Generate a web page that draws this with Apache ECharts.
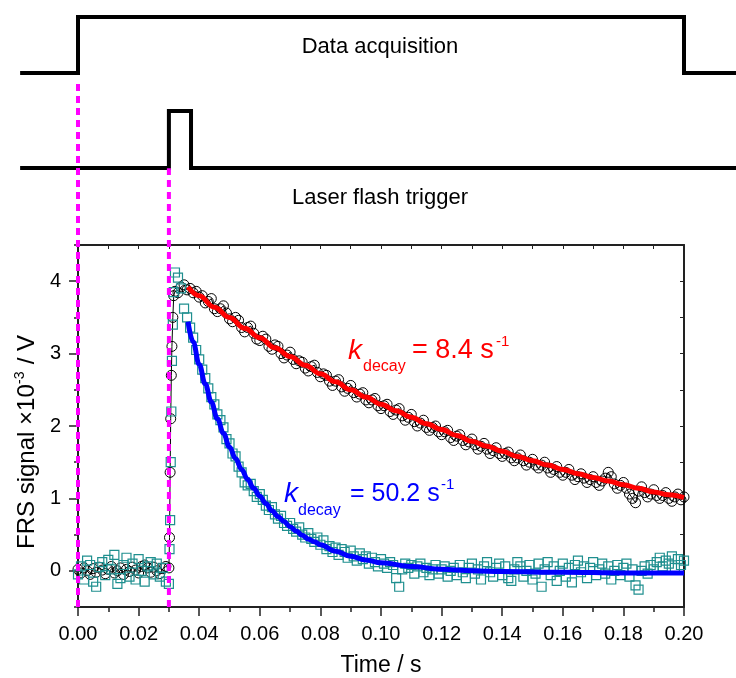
<!DOCTYPE html>
<html>
<head>
<meta charset="utf-8">
<script src="https://cdn.jsdelivr.net/npm/echarts@6.0.0/dist/echarts.min.js"></script>
<style>
html, body { margin: 0; padding: 0; background: #fff; }
#chart { width: 736px; height: 678px; }
</style>
</head>
<body>
<div id="chart"></div>
<script>
// FRS signal, one sample per ms (0 ... 0.200 s)
const sampleStep = 0.001;
const slowSignal = [
  0.02, -0.03, 0.04, 0.00, -0.05, 0.03, -0.02, 0.05, 0.01, -0.04,
  0.02, 0.06, -0.03, 0.00, 0.04, -0.05, 0.02, -0.01, 0.05, 0.01,
  -0.03, 0.06, 0.08, 0.04, -0.02, 0.05, 0.00, -0.04, 0.03, 0.06,
  0.04, 3.10, 3.86, 3.84, 3.92, 3.95, 3.88, 3.90, 3.84, 3.86,
  3.78, 3.80, 3.70, 3.72, 3.76, 3.62, 3.58, 3.62, 3.66, 3.56,
  3.48, 3.44, 3.50, 3.46, 3.36, 3.30, 3.36, 3.38, 3.28, 3.20,
  3.18, 3.24, 3.20, 3.10, 3.06, 3.12, 3.10, 3.00, 2.94, 2.98,
  3.02, 2.92, 2.86, 2.90, 2.88, 2.80, 2.76, 2.82, 2.84, 2.74,
  2.68, 2.72, 2.70, 2.62, 2.56, 2.62, 2.64, 2.54, 2.48, 2.52,
  2.56, 2.46, 2.40, 2.44, 2.46, 2.36, 2.32, 2.36, 2.38, 2.28,
  2.24, 2.28, 2.30, 2.20, 2.16, 2.22, 2.24, 2.14, 2.08, 2.12,
  2.16, 2.06, 2.00, 2.04, 2.08, 1.98, 1.94, 1.98, 2.00, 1.92,
  1.88, 1.92, 1.94, 1.84, 1.80, 1.86, 1.88, 1.80, 1.74, 1.78,
  1.82, 1.74, 1.68, 1.72, 1.76, 1.68, 1.62, 1.66, 1.70, 1.62,
  1.58, 1.62, 1.64, 1.56, 1.52, 1.56, 1.60, 1.52, 1.46, 1.50,
  1.54, 1.46, 1.42, 1.46, 1.50, 1.42, 1.36, 1.40, 1.44, 1.36,
  1.32, 1.36, 1.40, 1.32, 1.26, 1.30, 1.34, 1.28, 1.22, 1.26,
  1.30, 1.22, 1.18, 1.24, 1.28, 1.36, 1.30, 1.20, 1.14, 1.18,
  1.22, 1.14, 1.06, 1.00, 0.94, 1.10, 1.16, 1.08, 1.02, 1.06,
  1.12, 1.04, 1.00, 1.04, 1.08, 1.00, 0.96, 1.02, 1.06, 0.98,
  1.02
];
const fastSignal = [
  -0.05, 0.06, -0.12, 0.14, 0.08, -0.15, -0.22, 0.05, 0.12, -0.06,
  0.15, 0.02, 0.22, -0.18, -0.10, 0.08, 0.18, -0.08, 0.10, -0.12,
  0.16, 0.00, -0.15, 0.06, 0.12, -0.05, 0.10, -0.08, 0.04, -0.15,
  -0.18, 2.90, 4.12, 4.05, 3.90, 3.62, 3.50, 3.36, 3.22, 3.05,
  2.92, 2.78, 2.66, 2.52, 2.40, 2.30, 2.16, 2.08, 1.98, 1.82,
  1.76, 1.62, 1.58, 1.44, 1.36, 1.22, 1.18, 1.20, 1.10, 1.02,
  1.06, 0.98, 0.90, 0.84, 0.88, 0.78, 0.72, 0.76, 0.66, 0.62,
  0.66, 0.58, 0.54, 0.60, 0.50, 0.46, 0.52, 0.44, 0.40, 0.46,
  0.36, 0.42, 0.30, 0.34, 0.26, 0.32, 0.22, 0.30, 0.26, 0.18,
  0.28, 0.20, 0.14, 0.24, 0.16, 0.20, 0.10, 0.18, 0.12, 0.06,
  0.16, 0.10, 0.04, 0.12, 0.08, -0.10, -0.22, 0.02, 0.10, 0.04,
  0.08, -0.04, 0.06, 0.10, -0.02, 0.04, -0.06, 0.02, 0.08, -0.04,
  0.02, 0.06, -0.08, 0.00, 0.04, -0.06, 0.08, -0.02, -0.10, 0.04,
  0.10, -0.04, 0.02, -0.12, 0.06, 0.12, -0.02, -0.08, 0.04, 0.10,
  -0.06, 0.06, -0.10, -0.14, 0.02, 0.12, 0.06, -0.08, 0.00, 0.08,
  -0.12, -0.04, 0.10, -0.22, 0.02, 0.12, -0.06, 0.06, -0.14, 0.00,
  0.10, -0.08, 0.04, -0.16, 0.08, 0.14, -0.02, 0.06, -0.10, 0.04,
  0.12, -0.06, 0.02, 0.10, -0.04, 0.06, -0.12, 0.00, 0.08, -0.06,
  0.04, 0.10, -0.08, 0.02, -0.20, -0.26, 0.00, 0.06, -0.04, 0.08,
  0.02, 0.12, 0.18, 0.06, 0.14, 0.10, 0.20, 0.04, 0.16, 0.08,
  0.14
];
// extra samples on the rising edge after the flash
const riseTime = [0.0302, 0.0304, 0.0306, 0.0308, 0.0313, 0.0316];
const slowRise = [0.46, 1.36, 2.10, 2.70, 3.50, 3.80];
const fastRise = [0.30, 0.70, 1.50, 2.20, 3.40, 3.85];

// exponential fits
const redFitTime = [0.0363, 0.040, 0.045, 0.050, 0.055, 0.060, 0.065, 0.070, 0.075, 0.080,
  0.085, 0.090, 0.095, 0.100, 0.105, 0.110, 0.115, 0.120, 0.125, 0.130, 0.135, 0.140,
  0.145, 0.150, 0.155, 0.160, 0.165, 0.170, 0.175, 0.180, 0.185, 0.190, 0.195, 0.200];
const redFitValues = [3.92, 3.80, 3.64, 3.50, 3.35, 3.22, 3.08, 2.96, 2.84, 2.72,
  2.61, 2.50, 2.40, 2.30, 2.21, 2.12, 2.03, 1.95, 1.87, 1.79, 1.72, 1.65,
  1.58, 1.52, 1.46, 1.40, 1.34, 1.29, 1.24, 1.19, 1.14, 1.09, 1.05, 1.01];
const blueFitTime = [0.0363, 0.038, 0.040, 0.042, 0.044, 0.046, 0.048, 0.050, 0.052, 0.054,
  0.056, 0.058, 0.060, 0.062, 0.064, 0.066, 0.068, 0.070, 0.072, 0.074, 0.076, 0.078,
  0.080, 0.085, 0.090, 0.095, 0.100, 0.110, 0.120, 0.130, 0.140, 0.160, 0.180, 0.200];
const blueFitValues = [3.44, 3.16, 2.85, 2.58, 2.33, 2.10, 1.90, 1.71, 1.55, 1.40,
  1.26, 1.14, 1.03, 0.93, 0.83, 0.75, 0.68, 0.61, 0.55, 0.49, 0.44, 0.40,
  0.36, 0.27, 0.20, 0.15, 0.11, 0.06, 0.02, 0.00, -0.01, -0.02, -0.03, -0.03];

// timing diagram (level 0 = low, 1 = high)
const acqTime = [-0.0191, 0, 0, 0.200, 0.200, 0.2172];
const acqLevel = [0, 0, 1, 1, 0, 0];
const laserTime = [-0.0191, 0.030, 0.030, 0.0373, 0.0373, 0.2172];
const laserLevel = [0, 0, 1, 1, 0, 0];

// dotted markers: t = 0 (acquisition start) and t = 0.03 (flash)
const markerTime = [0, 0.03];
const markerTop = [6.76, 5.56];

const FONT = 'Arial, "Liberation Sans", sans-serif';
const AXIS = '#222';

// plot box: 78 px .. 684 px for 0 .. 0.2 s; timing grids span the full width
const PLOT_LEFT = 78, PLOT_RIGHT = 52, WIDTH = 736;
const secPerPx = 0.2 / (WIDTH - PLOT_LEFT - PLOT_RIGHT);
const fullMin = -PLOT_LEFT * secPerPx;
const fullMax = 0.2 + PLOT_RIGHT * secPerPx;

function zip(xs, ys) {
  return xs.map(function (x, i) { return [x, ys[i]]; });
}
function sampled(values, riseValues) {
  let pts = values.map(function (v, i) { return [+(i * sampleStep).toFixed(4), v]; });
  pts = pts.concat(zip(riseTime, riseValues));
  return pts.sort(function (a, b) { return a[0] - b[0]; });
}
function label(text, x, y, size, color, italic, rotate) {
  return {
    type: 'text', x: x, y: y, z: 10, rotation: rotate ? Math.PI / 2 : 0,
    style: {
      text: text, fill: color, fontSize: size, fontFamily: FONT,
      fontStyle: italic ? 'italic' : 'normal',
      align: 'left', verticalAlign: 'middle'
    }
  };
}

let myChart = echarts.init(document.getElementById('chart'));

let markerSeries = markerTime.map(function (t, i) {
  return {
    type: 'line', xAxisIndex: 0, yAxisIndex: 0, clip: false, z: 6,
    symbol: 'none', silent: true,
    lineStyle: { color: '#ff00ff', width: 4, type: [7, 5] },
    data: [[t, -0.5], [t, markerTop[i]]]
  };
});

let option = {
  animation: false,
  backgroundColor: '#fff',
  grid: [
    { left: PLOT_LEFT, right: PLOT_RIGHT, top: 245, bottom: 71, outerBoundsMode: 'none' },
    { left: 0, right: 0, top: 17, height: 56, outerBoundsMode: 'none' },
    { left: 0, right: 0, top: 111, height: 57, outerBoundsMode: 'none' }
  ],
  xAxis: [
    {
      gridIndex: 0, type: 'value', position: 'bottom',
      min: 0, max: 0.2, interval: 0.02,
      axisLine: { onZero: false, lineStyle: { color: AXIS, width: 2 } },
      axisTick: { length: 9, lineStyle: { color: AXIS, width: 1.5 } },
      minorTick: { show: true, splitNumber: 2, length: 5, lineStyle: { color: AXIS, width: 1.5 } },
      axisLabel: {
        margin: 17, fontSize: 20, color: '#000', fontFamily: FONT,
        formatter: function (v) { return v.toFixed(2); }
      },
      splitLine: { show: false },
      name: 'Time / s', nameLocation: 'middle', nameGap: 47,
      nameTextStyle: { fontSize: 23, color: '#000', fontFamily: FONT }
    },
    {
      gridIndex: 0, type: 'value', position: 'top',
      min: 0, max: 0.2, interval: 0.01,
      axisLine: { onZero: false, lineStyle: { color: AXIS, width: 2 } },
      axisTick: { inside: true, length: 4, lineStyle: { color: AXIS, width: 1 } },
      axisLabel: { show: false },
      splitLine: { show: false }
    },
    { gridIndex: 1, type: 'value', min: fullMin, max: fullMax, show: false },
    { gridIndex: 2, type: 'value', min: fullMin, max: fullMax, show: false }
  ],
  yAxis: [
    {
      gridIndex: 0, type: 'value', position: 'left',
      min: -0.5, max: 4.5, interval: 0.5,
      axisLine: { show: true, onZero: false, lineStyle: { color: AXIS, width: 2 } },
      axisTick: { length: 4, lineStyle: { color: AXIS, width: 1.5 } },
      axisLabel: {
        margin: 17, fontSize: 20, color: '#000', fontFamily: FONT,
        formatter: function (v) { return Number.isInteger(v) ? String(v) : ''; }
      },
      splitLine: { show: false }
    },
    {
      gridIndex: 0, type: 'value', position: 'left',
      min: -0.5, max: 4.5, interval: 0.5,
      axisLine: { show: false, onZero: false },
      axisTick: { show: true, length: 9, customValues: [0, 1, 2, 3, 4], lineStyle: { color: AXIS, width: 1.5 } },
      axisLabel: { show: false },
      splitLine: { show: false }
    },
    {
      gridIndex: 0, type: 'value', position: 'right',
      min: -0.5, max: 4.5, interval: 0.5,
      axisLine: { show: true, onZero: false, lineStyle: { color: AXIS, width: 2 } },
      axisTick: { show: true, inside: true, length: 4, lineStyle: { color: AXIS, width: 1 } },
      axisLabel: { show: false },
      splitLine: { show: false }
    },
    { gridIndex: 1, type: 'value', min: 0, max: 1, show: false },
    { gridIndex: 2, type: 'value', min: 0, max: 1, show: false }
  ],
  graphic: [
    // y axis title, read bottom to top
    label('FRS signal ×10', 27, 549, 24, '#000', false, true),
    label('-3', 20, 384, 14, '#000', false, true),
    label(' / V', 27, 371, 24, '#000', false, true),
    {
      type: 'text', x: 380, y: 47, z: 10,
      style: { text: 'Data acquisition', fill: '#000', fontSize: 22, fontFamily: FONT, align: 'center', verticalAlign: 'middle' }
    },
    {
      type: 'text', x: 380, y: 198, z: 10,
      style: { text: 'Laser flash trigger', fill: '#000', fontSize: 22, fontFamily: FONT, align: 'center', verticalAlign: 'middle' }
    },
    label('k', 348, 351, 28, '#ff0000', true),
    label('decay', 363, 367, 16, '#ff0000', false),
    label('= 8.4 s', 412, 351, 27, '#ff0000', false),
    label('-1', 496, 342, 15, '#ff0000', false),
    label('k', 284, 494, 28, '#0000ff', true),
    label('decay', 298, 511, 16, '#0000ff', false),
    label('= 50.2 s', 350, 494, 25, '#0000ff', false),
    label('-1', 441, 485, 15, '#0000ff', false)
  ],
  series: [
    {
      name: 'slow', type: 'line', xAxisIndex: 0, yAxisIndex: 0, z: 2,
      data: sampled(slowSignal, slowRise),
      symbol: 'circle', symbolSize: 10, showAllSymbol: true,
      lineStyle: { color: '#000', width: 1 },
      itemStyle: { color: 'rgba(0,0,0,0)', borderColor: '#000', borderWidth: 1 }
    },
    {
      name: 'fast', type: 'scatter', xAxisIndex: 0, yAxisIndex: 0, z: 3,
      data: sampled(fastSignal, fastRise),
      symbol: 'rect', symbolSize: 9,
      itemStyle: { color: 'rgba(0,0,0,0)', borderColor: '#1f8f8f', borderWidth: 1.2, opacity: 1 }
    },
    {
      name: 'fit 8.4', type: 'line', xAxisIndex: 0, yAxisIndex: 0, z: 4,
      data: zip(redFitTime, redFitValues), smooth: 0.4, smoothMonotone: 'x',
      symbol: 'none', lineStyle: { color: '#ff0000', width: 5 }
    },
    {
      name: 'fit 50.2', type: 'line', xAxisIndex: 0, yAxisIndex: 0, z: 4,
      data: zip(blueFitTime, blueFitValues), smooth: 0.4, smoothMonotone: 'x',
      symbol: 'none', lineStyle: { color: '#0000ff', width: 5 }
    },
    {
      name: 'acquisition', type: 'line', xAxisIndex: 2, yAxisIndex: 3,
      data: zip(acqTime, acqLevel), symbol: 'none',
      lineStyle: { color: '#000', width: 4, join: 'miter' }
    },
    {
      name: 'laser', type: 'line', xAxisIndex: 3, yAxisIndex: 4,
      data: zip(laserTime, laserLevel), symbol: 'none',
      lineStyle: { color: '#000', width: 4, join: 'miter' }
    }
  ].concat(markerSeries)
};

myChart.setOption(option);
</script>
</body>
</html>
